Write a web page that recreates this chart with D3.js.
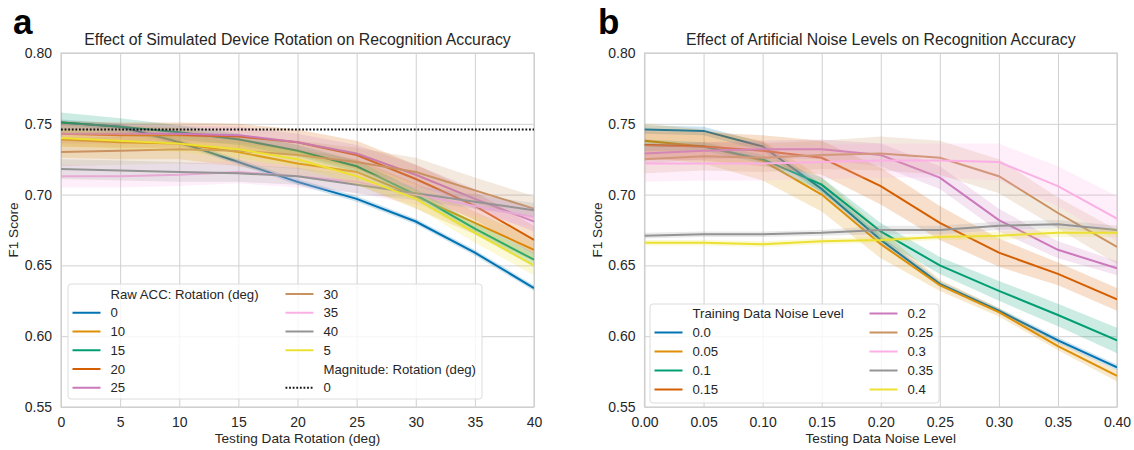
<!DOCTYPE html>
<html>
<head>
<meta charset="utf-8">
<script src="https://cdn.jsdelivr.net/npm/d3@7"></script>
<style>
  body { margin: 0; background: #fff; }
  svg { display: block; font-family: "Liberation Sans", Arial, sans-serif; }
</style>
</head>
<body>
<svg id="chart" width="1134" height="450"></svg>

<script>

  // ---- panel a : device rotation ----
  var rotX = [0, 5, 10, 15, 20, 25, 30, 35, 40];
  var rotKeys = ["0", "10", "15", "20", "25", "30", "35", "40", "5"];
  var rot0  = [0.751, 0.748, 0.737, 0.723, 0.709, 0.697, 0.681, 0.659, 0.634];
  var rot10 = [0.739, 0.737, 0.736, 0.730, 0.722, 0.716, 0.699, 0.680, 0.661];
  var rot15 = [0.751, 0.748, 0.744, 0.739, 0.731, 0.720, 0.700, 0.676, 0.654];
  var rot20 = [0.743, 0.742, 0.742, 0.741, 0.737, 0.728, 0.711, 0.692, 0.668];
  var rot25 = [0.743, 0.743, 0.743, 0.742, 0.737, 0.729, 0.714, 0.697, 0.681];
  var rot30 = [0.730, 0.731, 0.732, 0.731, 0.728, 0.723, 0.716, 0.703, 0.690];
  var rot35 = [0.713, 0.713, 0.714, 0.716, 0.713, 0.709, 0.700, 0.692, 0.684];
  var rot40 = [0.718, 0.717, 0.716, 0.715, 0.713, 0.707, 0.701, 0.695, 0.689];
  var rot5  = [0.740, 0.738, 0.736, 0.732, 0.725, 0.713, 0.697, 0.673, 0.650];
  var mag0  = [0.746, 0.746, 0.746, 0.746, 0.746, 0.746, 0.746, 0.746, 0.746];

  // confidence band half widths
  var rot0Ci  = [0.002, 0.002, 0.002, 0.002, 0.002, 0.002, 0.002, 0.002, 0.002];
  var rot10Ci = [0.013, 0.012, 0.011, 0.010, 0.010, 0.009, 0.009, 0.008, 0.008];
  var rot15Ci = [0.007, 0.006, 0.005, 0.004, 0.004, 0.004, 0.004, 0.004, 0.005];
  var rot20Ci = [0.009, 0.009, 0.009, 0.009, 0.009, 0.010, 0.010, 0.010, 0.010];
  var rot25Ci = [0.007, 0.007, 0.006, 0.006, 0.006, 0.006, 0.007, 0.007, 0.007];
  var rot30Ci = [0.010, 0.010, 0.010, 0.010, 0.010, 0.010, 0.010, 0.009, 0.009];
  var rot35Ci = [0.008, 0.008, 0.008, 0.008, 0.008, 0.008, 0.007, 0.007, 0.007];
  var rot40Ci = [0.007, 0.007, 0.007, 0.006, 0.006, 0.006, 0.005, 0.005, 0.005];
  var rot5Ci  = [0.006, 0.006, 0.006, 0.006, 0.006, 0.006, 0.006, 0.007, 0.007];

  // ---- panel b : noise level ----
  var noiseX = [0, 0.05, 0.10, 0.15, 0.20, 0.25, 0.30, 0.35, 0.40];
  var noiseKeys = ["0.0", "0.05", "0.1", "0.15", "0.2", "0.25", "0.3", "0.35", "0.4"];
  var noise00  = [0.746, 0.745, 0.734, 0.704, 0.668, 0.637, 0.618, 0.597, 0.578];
  var noise05  = [0.738, 0.734, 0.724, 0.700, 0.665, 0.636, 0.617, 0.593, 0.572];
  var noise10  = [0.735, 0.734, 0.725, 0.707, 0.674, 0.650, 0.632, 0.615, 0.597];
  var noise15  = [0.735, 0.734, 0.731, 0.726, 0.706, 0.680, 0.659, 0.644, 0.626];
  var noise20  = [0.729, 0.731, 0.732, 0.732, 0.728, 0.712, 0.682, 0.661, 0.648];
  var noise25  = [0.725, 0.727, 0.726, 0.728, 0.729, 0.726, 0.713, 0.687, 0.663];
  var noise30  = [0.722, 0.722, 0.722, 0.723, 0.724, 0.724, 0.723, 0.706, 0.683];
  var noise35  = [0.671, 0.672, 0.672, 0.673, 0.675, 0.675, 0.678, 0.679, 0.675];
  var noise40  = [0.666, 0.666, 0.665, 0.667, 0.668, 0.670, 0.671, 0.673, 0.673];

  var noise00Ci = [0.003, 0.003, 0.003, 0.003, 0.003, 0.002, 0.002, 0.002, 0.002];
  var noise05Ci = [0.012, 0.012, 0.014, 0.012, 0.010, 0.004, 0.003, 0.003, 0.004];
  var noise10Ci = [0.004, 0.003, 0.003, 0.005, 0.006, 0.006, 0.007, 0.008, 0.009];
  var noise15Ci = [0.010, 0.010, 0.011, 0.012, 0.013, 0.012, 0.010, 0.008, 0.008];
  var noise20Ci = [0.007, 0.006, 0.006, 0.007, 0.008, 0.008, 0.008, 0.006, 0.005];
  var noise25Ci = [0.010, 0.010, 0.010, 0.010, 0.012, 0.012, 0.012, 0.011, 0.012];
  var noise30Ci = [0.013, 0.012, 0.012, 0.012, 0.012, 0.012, 0.013, 0.014, 0.016];
  var noise35Ci = [0.002, 0.002, 0.002, 0.002, 0.003, 0.003, 0.003, 0.003, 0.003];
  var noise40Ci = [0.002, 0.002, 0.002, 0.002, 0.002, 0.002, 0.003, 0.003, 0.003];

  var yTicks = [0.55, 0.60, 0.65, 0.70, 0.75, 0.80];
  var palette = ["#0173B2", "#DE8F05", "#029E73", "#D55E00", "#CC78BC",
                 "#CA9161", "#FBAFE4", "#949494", "#ECE133"];

  var rotSeries = [rot0, rot10, rot15, rot20, rot25, rot30, rot35, rot40, rot5];
  var rotCis = [rot0Ci, rot10Ci, rot15Ci, rot20Ci, rot25Ci, rot30Ci, rot35Ci, rot40Ci, rot5Ci];
  var noiseSeries = [noise00, noise05, noise10, noise15, noise20, noise25, noise30, noise35, noise40];
  var noiseCis = [noise00Ci, noise05Ci, noise10Ci, noise15Ci, noise20Ci, noise25Ci, noise30Ci, noise35Ci, noise40Ci];

  var svg = d3.select("#chart");
  var textColor = "#262626";
  var gridColor = "#d0d0d0";
  var plotTop = 53, plotBottom = 407;

  var drawPanel = function(p) {
    var g = svg.append("g");
    var x = d3.scaleLinear().domain([p.x[0], p.x[p.x.length - 1]]).range([p.left, p.right]);
    var y = d3.scaleLinear().domain([0.55, 0.80]).range([plotBottom, plotTop]);

    // grid + tick labels
    var xAxis = g.append("g").attr("transform", "translate(0," + plotBottom + ")")
      .call(d3.axisBottom(x).tickValues(p.x).tickFormat(p.fmt)
        .tickSize(-(plotBottom - plotTop)).tickPadding(10));
    var yAxis = g.append("g").attr("transform", "translate(" + p.left + ",0)")
      .call(d3.axisLeft(y).tickValues(yTicks).tickFormat(d3.format(".2f"))
        .tickSize(-(p.right - p.left)).tickPadding(9));
    [xAxis, yAxis].forEach(function(a) {
      a.select(".domain").remove();
      a.selectAll("line").attr("stroke", gridColor).attr("stroke-width", 1);
      a.selectAll("text").attr("fill", textColor)
        .style("font-size", "14px").style("font-family", "Liberation Sans, Arial, sans-serif");
    });

    g.append("rect")
      .attr("x", p.left).attr("y", plotTop)
      .attr("width", p.right - p.left).attr("height", plotBottom - plotTop)
      .attr("fill", "none").attr("stroke", gridColor).attr("stroke-width", 1.2);

    var clipId = "clip" + p.name;
    svg.append("clipPath").attr("id", clipId).append("rect")
      .attr("x", p.left).attr("y", plotTop)
      .attr("width", p.right - p.left).attr("height", plotBottom - plotTop);
    var plot = g.append("g").attr("clip-path", "url(#" + clipId + ")");

    var area = d3.area()
      .x(function(d, i) { return x(p.x[i]); })
      .y0(function(d) { return y(d[0] - d[1]); })
      .y1(function(d) { return y(d[0] + d[1]); });
    var line = d3.line()
      .x(function(d, i) { return x(p.x[i]); })
      .y(function(d) { return y(d); });

    p.series.forEach(function(s, k) {
      var band = s.map(function(v, i) { return [v, p.cis[k][i]]; });
      plot.append("path").datum(band)
        .attr("d", area)
        .attr("fill", palette[k]).attr("fill-opacity", 0.2);
      plot.append("path").datum(s)
        .attr("d", line)
        .attr("fill", "none").attr("stroke", palette[k]).attr("stroke-width", 2);
    });

    if (p.extra) {
      plot.append("path").datum(p.extra)
        .attr("d", line)
        .attr("fill", "none").attr("stroke", "#111")
        .attr("stroke-width", 2).attr("stroke-dasharray", "1.8,1.8");
    }

    // titles
    g.append("text")
      .attr("x", (p.left + p.right) / 2).attr("y", 45)
      .attr("text-anchor", "middle").attr("fill", textColor)
      .style("font-size", "15.8px").text(p.title);
    g.append("text")
      .attr("x", (p.left + p.right) / 2).attr("y", 443)
      .attr("text-anchor", "middle").attr("fill", textColor)
      .style("font-size", "13.6px").text(p.xLabel);
    g.append("text")
      .attr("transform", "translate(" + (p.left - 43) + "," + ((plotTop + plotBottom) / 2) + ") rotate(-90)")
      .attr("text-anchor", "middle").attr("fill", textColor)
      .style("font-size", "13.6px").text("F1 Score");
    g.append("text")
      .attr("x", p.letterX).attr("y", 34)
      .attr("fill", "#000").style("font-size", "35px").style("font-weight", "bold")
      .text(p.letter);

    // legend
    var L = p.legend;
    var lg = g.append("g");
    lg.append("rect")
      .attr("x", L.x).attr("y", L.y).attr("width", L.w).attr("height", L.h)
      .attr("rx", 3).attr("fill", "#fff").attr("fill-opacity", 0.8)
      .attr("stroke", "#dcdcdc").attr("stroke-width", 1);
    var perCol = Math.ceil(L.items.length / 2);
    L.items.forEach(function(it, i) {
      var col = Math.floor(i / perCol), row = i % perCol;
      var cy = L.y0 + row * L.step;
      var hx = L.x + 4.5 + col * L.colW;
      if (it.color) {
        lg.append("line")
          .attr("x1", hx).attr("x2", hx + 28).attr("y1", cy).attr("y2", cy)
          .attr("stroke", it.color).attr("stroke-width", 2)
          .attr("stroke-dasharray", it.dash || null);
      }
      lg.append("text")
        .attr("x", hx + 38).attr("y", cy).attr("dy", "0.35em")
        .attr("fill", textColor).style("font-size", "13.2px")
        .text(it.text);
    });
  };

  var rotLegend = [{ text: "Raw ACC: Rotation (deg)" }];
  rotKeys.forEach(function(k, i) { rotLegend.push({ text: k, color: palette[i] }); });
  rotLegend.push({ text: "Magnitude: Rotation (deg)" });
  rotLegend.push({ text: "0", color: "#111", dash: "1.8,1.8" });

  var noiseLegend = [{ text: "Training Data Noise Level" }];
  noiseKeys.forEach(function(k, i) { noiseLegend.push({ text: k, color: palette[i] }); });

  drawPanel({
    name: "a", letter: "a", letterX: 13,
    left: 61, right: 534,
    x: rotX, fmt: d3.format("d"),
    series: rotSeries, cis: rotCis, extra: mag0,
    title: "Effect of Simulated Device Rotation on Recognition Accuracy",
    xLabel: "Testing Data Rotation (deg)",
    legend: { x: 68, y: 284, w: 414, h: 115, y0: 294, step: 18.75, colW: 213, items: rotLegend }
  });

  drawPanel({
    name: "b", letter: "b", letterX: 598,
    left: 644.5, right: 1117,
    x: noiseX, fmt: d3.format(".2f"),
    series: noiseSeries, cis: noiseCis,
    title: "Effect of Artificial Noise Levels on Recognition Accuracy",
    xLabel: "Testing Data Noise Level",
    legend: { x: 650, y: 304, w: 289, h: 99, y0: 313.5, step: 19, colW: 215, items: noiseLegend }
  });

</script>
</body>
</html>
